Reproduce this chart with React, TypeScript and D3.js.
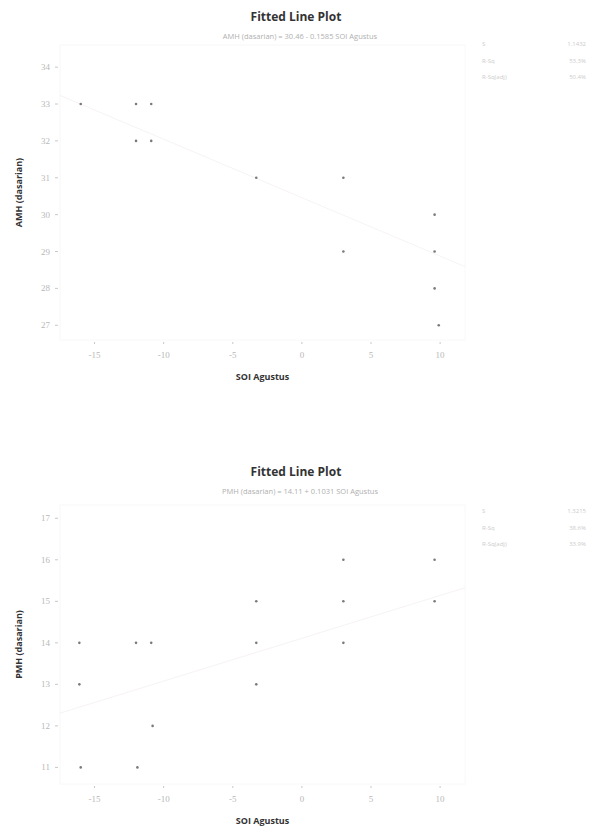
import React from "react";
import * as d3 from "d3";

const xTicks = [-15, -10, -5, 0, 5, 10];

const amhTicks = [27, 28, 29, 30, 31, 32, 33, 34];
const amhSOI = [-16.0, -12.0, -10.9, -12.0, -10.9, -3.3, 3.0, 9.6, 3.0, 9.6, 9.6, 9.9];
const amhVal = [33, 33, 33, 32, 32, 31, 31, 30, 29, 29, 28, 27];
const amhEq = "AMH (dasarian) = 30.46 - 0.1585 SOI Agustus";
const amhStats = [["S", "1.1432"], ["R-Sq", "53.3%"], ["R-Sq(adj)", "50.4%"]];
const amhFit = [30.46, -0.1585];

const pmhTicks = [11, 12, 13, 14, 15, 16, 17];
const pmhSOI = [-16.1, -12.0, -10.9, -3.3, -3.3, -16.1, -3.3, 3.0, 9.6, 3.0, 9.6, 3.0, -10.8, -16.0, -11.9];
const pmhVal = [14, 14, 14, 15, 14, 13, 13, 16, 16, 15, 15, 14, 12, 11, 11];
const pmhEq = "PMH (dasarian) = 14.11 + 0.1031 SOI Agustus";
const pmhStats = [["S", "1.3215"], ["R-Sq", "38.6%"], ["R-Sq(adj)", "33.9%"]];
const pmhFit = [14.11, 0.1031];

type PlotProps = {
  oy: number;
  hy: number;
  ly: number;
  topPad: number;
  yDomain: [number, number];
  yTicks: number[];
  xs: number[];
  ys: number[];
  eq: string;
  stats: string[][];
  fit: number[];
  yLabel: string;
};

function Plot({ oy, hy, ly, topPad, yDomain, yTicks, xs, ys, eq, stats, fit, yLabel }: PlotProps) {
  const left = 60, right = 465, top = 45 + oy + topPad, bottom = 340 + oy;
  const x = d3.scaleLinear().domain([-17.5, 11.8]).range([left, right]);
  const y = d3.scaleLinear().domain(yDomain).range([bottom, top]);
  const line = d3.line<number>().x((v) => x(v)).y((v) => y(fit[0] + fit[1] * v));
  const faint = "#b8b8b8";
  return (
    <g>
      <text x={296} y={21 + hy} textAnchor="middle" fontFamily="Open Sans" fontWeight="bold" fontSize={12} fill="#333">
        Fitted Line Plot
      </text>
      <text x={300} y={39 + hy} textAnchor="middle" fontFamily="Open Sans" fontSize={7.5} fill="#b0b0b0">
        {eq}
      </text>
      <rect x={left} y={top} width={right - left} height={bottom - top} fill="none" stroke="#f8f8f8" />
      <path d={line([-17.5, 11.8]) || ""} fill="none" stroke="#f8f3f3" strokeWidth={1} />
      {yTicks.map((t) => (
        <g key={"y" + t}>
          <line x1={left - 5} x2={left - 2} y1={y(t)} y2={y(t)} stroke="#c8c8c8" />
          <text x={left - 10} y={y(t) + 3} textAnchor="end" fontFamily="Liberation Serif" fontSize={9} fill={faint}>
            {t}
          </text>
        </g>
      ))}
      {xTicks.map((t) => (
        <g key={"x" + t}>
          <line x1={x(t)} x2={x(t)} y1={bottom + 2} y2={bottom + 4} stroke="#c8c8c8" />
          <text x={x(t)} y={bottom + 18} textAnchor="middle" fontFamily="Liberation Serif" fontSize={9} fill={faint}>
            {t}
          </text>
        </g>
      ))}
      {xs.map((v, i) => (
        <circle key={"p" + i} cx={x(v)} cy={y(ys[i])} r={1.3} fill="#7a7a7a" />
      ))}
      {stats.map((s, i) => (
        <g key={"s" + i}>
          <text x={482} y={46 + ly + i * 16.5} fontFamily="Open Sans" fontSize={6} fill="#cccccc">
            {s[0]}
          </text>
          <text x={586} y={46 + ly + i * 16.5} textAnchor="end" fontFamily="Open Sans" fontSize={6} fill="#cccccc">
            {s[1]}
          </text>
        </g>
      ))}
      <text x={(left + right) / 2} y={bottom + 40} textAnchor="middle" fontFamily="Open Sans" fontWeight="bold" fontSize={9} fill="#333">
        SOI Agustus
      </text>
      <text
        transform={`translate(22,${(top + bottom) / 2}) rotate(-90)`}
        textAnchor="middle"
        fontFamily="Open Sans"
        fontWeight="bold"
        fontSize={9}
        fill="#333"
      >
        {yLabel}
      </text>
    </g>
  );
}

export default function App() {
  return (
    <svg width={592} height={831} style={{ position: "absolute", left: 0, top: 0, background: "#fff" }}>
      <rect width={592} height={831} fill="#fff" />
      <Plot oy={0} hy={0} ly={0} topPad={0} yDomain={[26.6, 34.6]} yTicks={amhTicks} xs={amhSOI} ys={amhVal} eq={amhEq} stats={amhStats} fit={amhFit} yLabel="AMH (dasarian)" />
      <Plot oy={444} hy={455} ly={467} topPad={16} yDomain={[10.6, 17.32]} yTicks={pmhTicks} xs={pmhSOI} ys={pmhVal} eq={pmhEq} stats={pmhStats} fit={pmhFit} yLabel="PMH (dasarian)" />
    </svg>
  );
}
